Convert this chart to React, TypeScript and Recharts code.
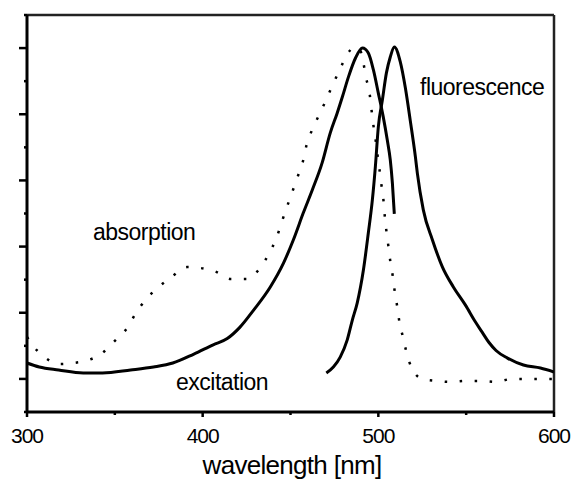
import { LineChart, Line, XAxis, YAxis, ReferenceLine } from "recharts";

// wavelength (nm) / intensity (arb. units)
const absorptionNm = [
  300, 303, 310, 318, 326, 335, 342, 350, 357, 362, 368, 375, 383, 391, 399, 408, 416, 425, 433, 438, 442, 445,
  448, 451, 454, 457, 459, 462, 466, 470, 474, 478, 482, 486, 489, 491.5, 493, 495, 496, 497, 498.3, 499.4, 500.6,
  501.7, 502.9, 503.6, 504.6, 505.7, 506.8, 508.2, 509.3, 510.8, 512, 514, 516, 519, 525, 533, 541, 550, 558, 567,
  576, 583, 592, 600,
];
const absorptionVal = [
  2.27, 2.03, 1.66, 1.45, 1.48, 1.57, 1.75, 2.15, 2.54, 2.99, 3.42, 3.78, 4.11, 4.38, 4.35, 4.23, 4.02, 4.02, 4.38,
  4.81, 5.26, 5.74, 6.2, 6.65, 7.1, 7.56, 8.04, 8.49, 8.95, 9.4, 9.89, 10.34, 10.79, 11.0, 11.0, 10.55, 10.1, 9.64,
  9.19, 8.74, 8.28, 7.83, 7.35, 6.89, 6.41, 5.96, 5.47, 5.02, 4.56, 4.11, 3.66, 3.17, 2.72, 2.27, 1.81, 1.33, 1.0,
  0.94, 0.91, 0.94, 0.94, 0.91, 1.0, 1.0, 1.0, 1.0,
];

const excitationNm = [
  300, 307, 318, 332, 343, 359, 372, 383, 395, 406, 414, 421, 429, 438.5, 446, 451.6, 457.3, 462.4, 468, 472.6,
  476.6, 479.5, 483, 487, 491, 494.3, 497.2, 500, 502.8, 505.1, 506.8, 508, 509.1,
];
const excitationVal = [
  1.48, 1.36, 1.27, 1.18, 1.18, 1.27, 1.36, 1.48, 1.75, 2.03, 2.22, 2.55, 3.08, 3.78, 4.5, 5.2, 6.02, 6.71, 7.53,
  8.43, 9.04, 9.52, 10.13, 10.7, 11.0, 10.85, 10.34, 9.64, 8.92, 8.22, 7.62, 6.92, 5.99,
];

const fluorescenceNm = [
  470.4, 474.4, 478.3, 482.3, 485.2, 488, 491.5, 494.3, 496.6, 498.3, 500, 502.3, 504.6, 506.8, 509.1, 512.5,
  515.4, 518.2, 521.1, 522.2, 525.6, 530.8, 536.5, 542.7, 549.6, 555.3, 559, 563, 567, 573.5, 582.6, 592.3, 600,
];
const fluorescenceVal = [
  1.18, 1.36, 1.66, 2.18, 2.78, 3.3, 4.29, 5.41, 6.41, 7.41, 8.62, 9.43, 10.25, 10.73, 11.03, 10.58, 9.79, 8.8,
  7.71, 7.22, 6.11, 5.2, 4.38, 3.78, 3.23, 2.72, 2.42, 2.1, 1.86, 1.63, 1.42, 1.33, 1.21,
];

const xTicks = [300, 350, 400, 450, 500, 550, 600];
const yTicks = [0, 1, 2, 3, 4, 5, 6, 7, 8, 9, 10, 11, 12];

const zip = (xs: number[], ys: number[]) => xs.map((nm, i) => ({ nm, v: ys[i] }));
const absorption = zip(absorptionNm, absorptionVal);
const excitation = zip(excitationNm, excitationVal);
const fluorescence = zip(fluorescenceNm, fluorescenceVal);

const FONT = '"Liberation Sans", Arial, sans-serif';

const XTick = ({ x, y, payload }: any) => {
  const major = payload.value % 100 === 0;
  return (
    <g>
      <line x1={x} x2={x} y1={y} y2={y + (major ? 5 : 3)} stroke="#000" strokeWidth={2.5} />
      {major && (
        <text x={x} y={y + 31} textAnchor="middle" fontFamily={FONT} fontSize={21} letterSpacing={-1} fill="#000">
          {payload.value}
        </text>
      )}
    </g>
  );
};

const YTick = ({ x, y, payload }: any) => {
  const major = payload.value % 2 === 1;
  return <line x1={x} x2={x - (major ? 8 : 3)} y1={y} y2={y} stroke="#000" strokeWidth={2.5} />;
};

const label = { fontFamily: FONT, fontSize: 23, letterSpacing: -0.5, fill: "#000" };

const App = () => {
  return (
    <div style={{ position: "absolute", left: 0, top: 0, width: 575, height: 481, background: "#fff" }}>
      <LineChart width={575} height={481} data={absorption} margin={{ top: 15, right: 21, bottom: 39, left: 17 }}>
        <XAxis
          dataKey="nm"
          type="number"
          domain={[300, 600]}
          ticks={xTicks}
          height={30}
          tickSize={0}
          tickMargin={0}
          tickLine={false}
          tick={<XTick />}
          axisLine={{ stroke: "#000", strokeWidth: 3 }}
          allowDataOverflow
        />
        <YAxis
          type="number"
          domain={[0, 12]}
          ticks={yTicks}
          width={10}
          tickSize={0}
          tickMargin={0}
          tickLine={false}
          tick={<YTick />}
          axisLine={{ stroke: "#000", strokeWidth: 3 }}
          allowDataOverflow
        />
        <ReferenceLine y={12} stroke="#222" strokeWidth={2.5} />
        <ReferenceLine x={600} stroke="#222" strokeWidth={2.5} />
        <Line
          data={absorption}
          dataKey="v"
          type="monotone"
          stroke="#000"
          strokeWidth={2.5}
          strokeDasharray="2.5 12.5"
          dot={false}
          isAnimationActive={false}
        />
        <Line
          data={excitation}
          dataKey="v"
          type="monotone"
          stroke="#000"
          strokeWidth={3}
          dot={false}
          isAnimationActive={false}
        />
        <Line
          data={fluorescence}
          dataKey="v"
          type="monotone"
          stroke="#000"
          strokeWidth={3}
          dot={false}
          isAnimationActive={false}
        />
      </LineChart>
      <svg width={575} height={481} style={{ position: "absolute", left: 0, top: 0, pointerEvents: "none" }}>
        <text x={93} y={240} {...label}>absorption</text>
        <text x={420} y={95} {...label}>fluorescence</text>
        <text x={176} y={390} {...label}>excitation</text>
        <text x={292} y={474} textAnchor="middle" fontFamily={FONT} fontSize={26} letterSpacing={-0.7} fill="#000">
          wavelength [nm]
        </text>
      </svg>
    </div>
  );
};

export default App;
